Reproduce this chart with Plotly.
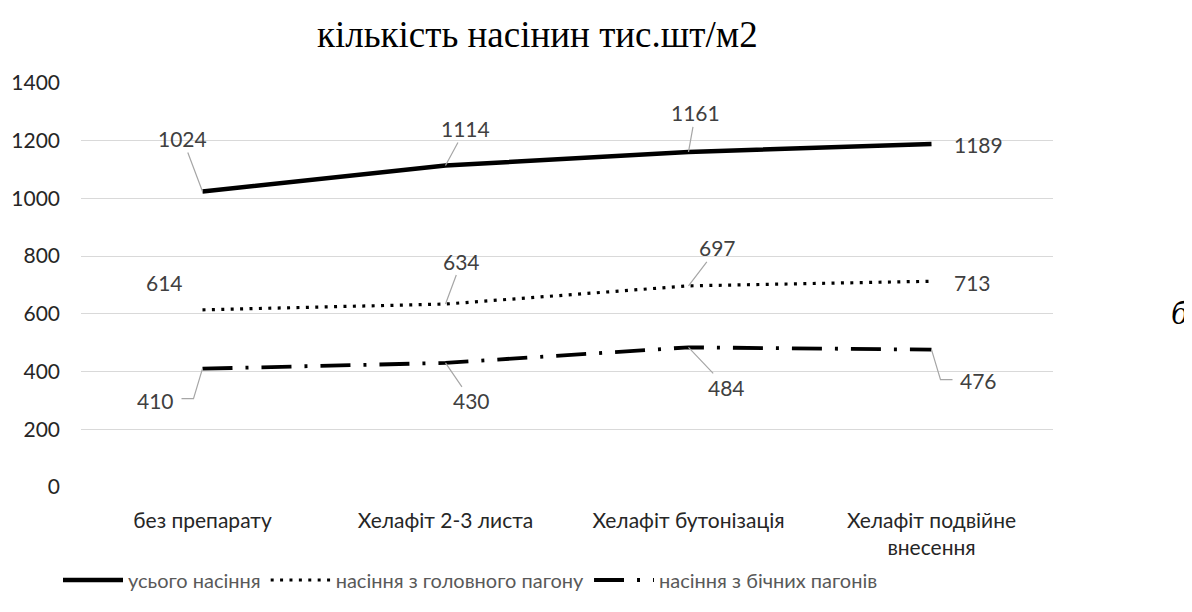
import plotly.graph_objects as go

categories = ["без препарату", "Хелафіт 2-3 листа", "Хелафіт бутонізація", "Хелафіт подвійне<br>внесення"]
total_seeds = [1024, 1114, 1161, 1189]
main_shoot = [614, 634, 697, 713]
side_shoots = [410, 430, 484, 476]
series_names = ["усього насіння", "насіння з головного пагону", "насіння з бічних пагонів"]
y_ticks = [0, 200, 400, 600, 800, 1000, 1200, 1400]

FONT = "Lato"
x_idx = list(range(len(categories)))

# page body has an 8px margin: the figure is placed at (8, 8)
OFF = 8
L, T, R, B = 81 - OFF, 83 - OFF, 1053 - OFF, 487 - OFF
W, H = 1192 - OFF, 612 - OFF
PW, PH = R - L, B - T

fig = go.Figure()
fig.add_trace(go.Scatter(x=x_idx, y=total_seeds, mode="lines", name=series_names[0],
                         line=dict(color="black", width=4.5)))
fig.add_trace(go.Scatter(x=x_idx, y=main_shoot, mode="lines", name=series_names[1],
                         line=dict(color="black", width=3.2, dash="3px,6.4px")))
fig.add_trace(go.Scatter(x=x_idx, y=side_shoots, mode="lines", name=series_names[2],
                         line=dict(color="black", width=3.8, dash="30px,13px,3px,13px")))

# label offsets (pixels): (dx, dy_down, leader)  leader: 'arrow', None, 'elbowL', 'elbowR'
label_style = {
    0: [(-20, -53, "arrow"), (20, -37, "arrow"), (7, -39, "arrow"), (47, 1, None)],
    1: [(-38, -27, None), (16, -43, "arrow"), (29, -38, "arrow"), (41, 1, None)],
    2: [(-47, 32, "elbowL"), (26, 38, "arrow"), (38, 40, "arrow"), (47, 31, "elbowR")],
}
series_vals = [total_seeds, main_shoot, side_shoots]
annotations = []
shapes = []
for s, vals in enumerate(series_vals):
    for i, v in enumerate(vals):
        dx, dy, leader = label_style[s][i]
        common = dict(x=i, y=v, xref="x", yref="y", text=str(v),
                      font=dict(family=FONT, size=21, color="#404040"))
        if leader == "arrow":
            annotations.append(dict(**common, showarrow=True, ax=dx, ay=dy, arrowhead=0,
                                    arrowwidth=1.2, arrowcolor="#a6a6a6", standoff=0,
                                    startstandoff=0))
        else:
            annotations.append(dict(**common, showarrow=False, xshift=dx, yshift=-dy))
            if leader in ("elbowL", "elbowR"):
                sgn = -1 if leader == "elbowL" else 1
                path = f"M0,0 L{sgn*9},-30 L{sgn*21},-30"
                shapes.append(dict(type="path", xref="x", yref="y", xsizemode="pixel",
                                   ysizemode="pixel", xanchor=i, yanchor=v, path=path,
                                   line=dict(color="#a6a6a6", width=1.2)))

annotations.append(dict(text="кількість насінин тис.шт/м2", xref="paper", yref="paper",
                        x=(537 - 81) / PW, y=1 + (83 - 34) / PH, showarrow=False,
                        xanchor="center", yanchor="middle",
                        font=dict(family="Liberation Serif", size=37, color="black")))
annotations.append(dict(text="<i>б</i>", xref="paper", yref="paper",
                        x=1 + (1180 - 1053) / PW, y=(487 - 312) / PH, showarrow=False,
                        xanchor="center", yanchor="middle",
                        font=dict(family="Liberation Serif", size=34, color="black")))

fig.update_layout(
    width=W, height=H,
    margin=dict(l=L, r=W - R, t=T, b=H - B, autoexpand=False),
    plot_bgcolor="white", paper_bgcolor="white",
    showlegend=True,
    legend=dict(orientation="h", x=(58 - 81) / PW, xanchor="left",
                y=-(580 - 487) / PH, yanchor="middle",
                font=dict(family=FONT, size=20, color="#595959"),
                itemwidth=60, tracegroupgap=0),
    annotations=annotations,
    shapes=shapes,
)
fig.update_xaxes(range=[-0.5, 3.5], tickmode="array", tickvals=x_idx, ticktext=categories,
                 showgrid=False, zeroline=False, showline=False, ticks="", automargin=False,
                 tickfont=dict(family=FONT, size=21, color="#262626"),
                 ticklabelstandoff=19)
fig.update_yaxes(range=[0, 1400], tickmode="array", tickvals=y_ticks,
                 showgrid=True, gridcolor="#d9d9d9", gridwidth=1.3, zeroline=False,
                 showline=False, ticks="", automargin=False,
                 tickfont=dict(family=FONT, size=21, color="#262626"),
                 ticklabelstandoff=20)

fig.write_html("out.html")
